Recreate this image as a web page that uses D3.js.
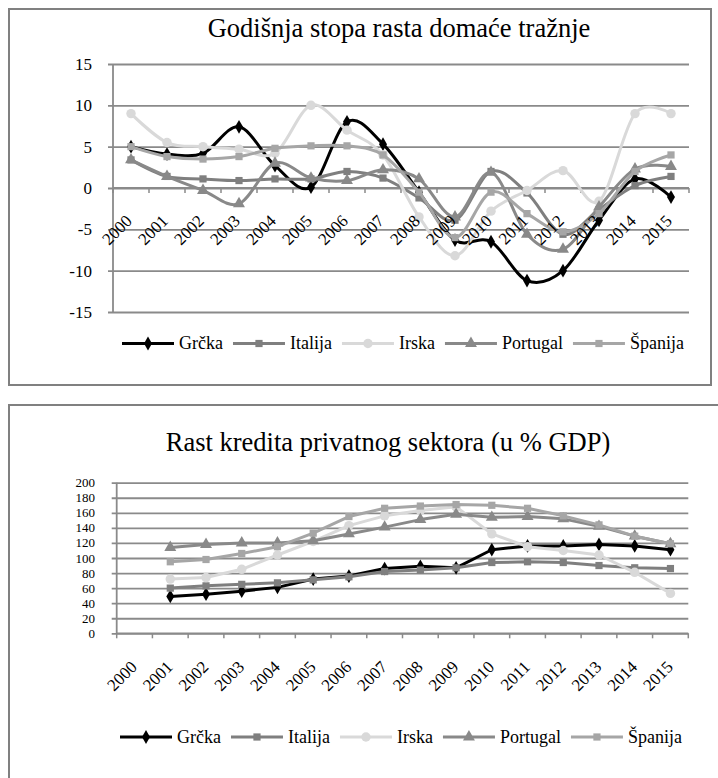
<!DOCTYPE html>
<html><head><meta charset="utf-8">
<script src="https://cdn.jsdelivr.net/npm/d3@7"></script>
<style>body{margin:0;background:#fff}</style>
</head><body>
<svg id="c" width="718" height="778" font-family="'Liberation Serif', 'Times New Roman', 'DejaVu Serif', serif"></svg>
<script>
// ---------- data ----------
const years = ["2000","2001","2002","2003","2004","2005","2006","2007","2008","2009","2010","2011","2012","2013","2014","2015"];
const seriesNames = ["Grčka","Italija","Irska","Portugal","Španija"];

// Chart 1: Godišnja stopa rasta domaće tražnje
const title1 = "Godišnja stopa rasta domaće tražnje";
const yTicks1 = [-15,-10,-5,0,5,10,15];
const grcka1    = [5.0, 4.1, 4.2, 7.4, 2.7, 0.1, 8.0, 5.3, -0.5, -6.3, -6.5, -11.2, -10.0, -3.9, 1.1, -1.1];
const italija1  = [3.4, 1.4, 1.1, 0.9, 1.1, 1.1, 2.0, 1.2, -1.2, -3.9, 2.0, -0.6, -5.6, -2.6, 0.3, 1.4];
const irska1    = [9.0, 5.5, 5.0, 4.7, 4.2, 10.0, 7.0, 4.0, -3.5, -8.2, -2.8, -0.3, 2.1, -1.6, 9.0, 9.0];
const portugal1 = [3.4, 1.4, -0.3, -1.9, 3.0, 1.2, 0.9, 2.2, 1.1, -3.5, 1.9, -5.6, -7.4, -2.3, 2.3, 2.6];
const spanija1  = [5.0, 3.8, 3.5, 3.8, 4.8, 5.1, 5.1, 4.0, -0.5, -6.0, -0.5, -3.1, -5.3, -3.1, 2.0, 4.0];

// Chart 2: Rast kredita privatnog sektora (u % GDP)
const title2 = "Rast kredita privatnog sektora (u % GDP)";
const yTicks2 = [0,20,40,60,80,100,120,140,160,180,200];
const grcka2    = [null, 49, 52, 56, 61, 72, 76, 86, 89, 87, 111, 116, 116, 118, 116, 111];
const italija2  = [null, 60, 63, 65, 67, 71, 75, 82, 84, 87, 94, 95, 94, 90, 87, 86];
const irska2    = [null, 72, 74, 85, 104, 122, 143, 156, 163, 168, 132, 115, 110, 104, 81, 53];
const portugal2 = [null, 114, 118, 120, 120, 123, 132, 141, 151, 158, 154, 155, 152, 142, 129, 119];
const spanija2  = [null, 95, 98, 106, 115, 133, 155, 166, 169, 171, 170, 166, 156, 144, 129, 119];

// ---------- styles ----------
const FONT = "'Liberation Serif', 'Times New Roman', 'DejaVu Serif', serif";
const styles = [
  {color:"#000000", sym:d3.symbolDiamond, size:55},
  {color:"#7f7f7f", sym:d3.symbolSquare, size:52},
  {color:"#d9d9d9", sym:d3.symbolCircle, size:70},
  {color:"#898989", sym:d3.symbolTriangle, size:62},
  {color:"#a6a6a6", sym:d3.symbolSquare, size:52}
];
const gridColor = "#8a8a8a";
const svg = d3.select("#c");

// frames
svg.append("rect").attr("x",9).attr("y",9).attr("width",702).attr("height",376)
  .attr("fill","none").attr("stroke","#808080").attr("stroke-width",2);
svg.append("rect").attr("x",9).attr("y",405).attr("width",730).attr("height",400)
  .attr("fill","none").attr("stroke","#808080").attr("stroke-width",2);

function txt(sel){ return sel.attr("font-family",FONT).attr("fill","#000"); }

function drawChart(cfg){
  const g = svg.append("g");
  const x = d3.scaleBand().domain(years).range([cfg.x0, cfg.x1]);
  const xi = d3.scaleLinear().domain([0, years.length]).range([cfg.x0, cfg.x1]);
  const y = d3.scaleLinear().domain(cfg.yDomain).range([cfg.yBottom, cfg.yTop]);

  // title
  txt(g.append("text")).attr("x",cfg.titleX).attr("y",cfg.titleY).attr("text-anchor","middle")
    .attr("font-size",26.5).text(cfg.title);

  // gridlines (via axis)
  const yAxis = g.append("g").attr("transform",`translate(${cfg.x0},0)`)
    .call(d3.axisLeft(y).tickValues(cfg.yTicks).tickSize(0).tickPadding(0).tickFormat(d3.format("d")));
  yAxis.select(".domain").remove();
  yAxis.selectAll(".tick text").remove();
  yAxis.selectAll(".tick").append("line").attr("x1",-5).attr("x2",cfg.x1-cfg.x0)
    .attr("stroke",gridColor).attr("stroke-width",1.8);
  txt(g.selectAll(".ylab").data(cfg.yTicks).join("text"))
    .attr("x",cfg.yLabelX).attr("y",d=>y(d)).attr("dy","0.35em").attr("text-anchor","end")
    .attr("font-size",cfg.yFont).text(d=>d);

  // y axis line
  g.append("line").attr("x1",cfg.x0).attr("x2",cfg.x0).attr("y1",cfg.yTop).attr("y2",cfg.yBottom)
    .attr("stroke",gridColor).attr("stroke-width",1.8);
  // x axis line at 0 + ticks
  const y0 = y(0);
  g.append("line").attr("x1",cfg.x0).attr("x2",cfg.x1).attr("y1",y0).attr("y2",y0)
    .attr("stroke",gridColor).attr("stroke-width",1.8);
  g.selectAll(".xt").data(d3.range(years.length+1)).join("line")
    .attr("x1",d=>xi(d)).attr("x2",d=>xi(d)).attr("y1",y0).attr("y2",y0+5)
    .attr("stroke",gridColor).attr("stroke-width",1.5);

  // series
  const curve = cfg.smooth ? d3.curveCardinal.tension(0) : d3.curveLinear;
  cfg.data.forEach((vals,si)=>{
    const st = styles[si];
    const pts = years.map((yr,i)=>({yr, v:vals[i]})).filter(p=>p.v!==null);
    const line = d3.line().x(p=>x(p.yr)+x.bandwidth()/2).y(p=>y(p.v)).curve(curve);
    g.append("path").datum(pts).attr("d",line).attr("fill","none")
      .attr("stroke",st.color).attr("stroke-width",3).attr("stroke-linejoin","round");
    g.selectAll(null).data(pts).join("path")
      .attr("d",d3.symbol().type(st.sym).size(st.size))
      .attr("transform",p=>`translate(${x(p.yr)+x.bandwidth()/2},${y(p.v)})`)
      .attr("fill",st.color);
  });

  // x labels
  txt(g.selectAll(".xl").data(years).join("text"))
    .attr("text-anchor","end")
    .attr("transform",d=>`translate(${x(d)+x.bandwidth()/2+cfg.labDx},${cfg.labY}) rotate(-45)`)
    .attr("font-size",17).text(d=>d);

  // legend
  let lx = cfg.legX;
  seriesNames.forEach((name,si)=>{
    const st = styles[si];
    g.append("line").attr("x1",lx).attr("x2",lx+52).attr("y1",cfg.legY).attr("y2",cfg.legY)
      .attr("stroke",st.color).attr("stroke-width",3);
    g.append("path").attr("d",d3.symbol().type(st.sym).size(st.size))
      .attr("transform",`translate(${lx+26},${cfg.legY})`).attr("fill",st.color);
    const t = txt(g.append("text")).attr("x",lx+57).attr("y",cfg.legY).attr("dy","0.33em")
      .attr("font-size",18).text(name);
    lx = lx + 57 + t.node().getComputedTextLength() + 10;
  });
}

drawChart({
  title:title1, titleX:399, titleY:37,
  x0:113, x1:689, yTop:64, yBottom:312, yDomain:[-15,15], yTicks:yTicks1, yLabelX:92, yFont:17,
  data:[grcka1,italija1,irska1,portugal1,spanija1], smooth:true,
  labDx:2, labY:222, legX:122, legY:343.5
});
drawChart({
  title:title2, titleX:388, titleY:451,
  x0:116.7, x1:688.3, yTop:482.7, yBottom:633.3, yDomain:[0,200], yTicks:yTicks2, yLabelX:95, yFont:13,
  data:[grcka2,italija2,irska2,portugal2,spanija2], smooth:false,
  labDx:3.5, labY:668, legX:120, legY:737
});
</script>
</body></html>
